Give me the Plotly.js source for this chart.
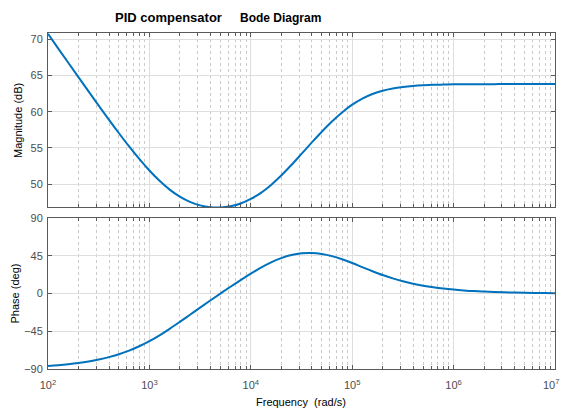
<!DOCTYPE html>
<html>
<head>
<meta charset="utf-8">
<script src="https://cdn.plot.ly/plotly-3.0.1.min.js"></script>
<style>html,body{margin:0;padding:0;background:#fff;}#chart{width:563px;height:409px;}</style>
</head>
<body>
<div id="chart"></div>
<script>
// Frequency (rad/s)
var freq = [100, 125.9, 158.5, 199.5, 251.2, 316.2, 398.1, 501.2, 631.0, 794.3,
  1000, 1259, 1585, 1995, 2512, 3162, 3981, 5012, 6310, 7943,
  10000, 12589, 15849, 19953, 25119, 31623, 39811, 50119, 63096, 79433,
  100000, 125893, 158489, 199526, 251189, 316228, 398107, 501187, 630957, 794328,
  1000000, 1258925, 1584893, 1995262, 2511886, 3162278, 3981072, 5011872, 6309573, 7943282,
  10000000];
// Magnitude (dB)
var magDb = [70.71, 68.72, 66.73, 64.75, 62.79, 60.84, 58.91, 57.03, 55.21, 53.49,
  51.90, 50.48, 49.27, 48.30, 47.58, 47.10, 46.85, 46.81, 46.98, 47.36,
  47.98, 48.83, 49.92, 51.21, 52.65, 54.18, 55.73, 57.24, 58.65, 59.90,
  60.96, 61.80, 62.43, 62.89, 63.20, 63.41, 63.55, 63.64, 63.70, 63.73,
  63.76, 63.78, 63.78, 63.79, 63.79, 63.80, 63.80, 63.80, 63.80, 63.80,
  63.80];
// Phase (deg)
var phaseDeg = [-86.40, -85.47, -84.30, -82.84, -81.00, -78.71, -75.86, -72.34, -68.04, -62.86,
  -56.78, -49.78, -42.04, -33.78, -25.27, -16.75, -8.32, -0.02, 8.11, 16.09,
  23.76, 30.88, 37.17, 42.27, 45.93, 48.01, 48.44, 47.28, 44.71, 40.96,
  36.44, 31.51, 26.64, 22.09, 18.08, 14.65, 11.78, 9.44, 7.54, 6.00,
  4.78, 3.80, 2.98, 2.41, 1.91, 1.52, 1.21, 0.96, 0.76, 0.60,
  0.48];
var xTickVals = [1e2, 1e3, 1e4, 1e5, 1e6, 1e7];
var xTickText = ['10<sup>2</sup>', '10<sup>3</sup>', '10<sup>4</sup>', '10<sup>5</sup>', '10<sup>6</sup>', '10<sup>7</sup>'];
var magTicks = [50, 55, 60, 65, 70];
var phaseTicks = [-90, -45, 0, 45, 90];

var lineColor = 'rgb(0,114,189)';
var traces = [
  {x: freq, y: magDb, xaxis: 'x2', yaxis: 'y2', type: 'scatter', mode: 'lines',
   line: {color: lineColor, width: 2, shape: 'spline'}, hoverinfo: 'skip'},
  {x: freq, y: phaseDeg, xaxis: 'x', yaxis: 'y', type: 'scatter', mode: 'lines',
   line: {color: lineColor, width: 2, shape: 'spline'}, hoverinfo: 'skip'}
];

var font = 'Liberation Sans, Arial, Helvetica, sans-serif';
var tickFont = {family: font, size: 11, color: '#4d4d4d'};
var axLine = '#5a5a5a';
var majGrid = '#dedede';
var minorCfg = {dtick: 'D1', ticks: 'inside', ticklen: 3, tickcolor: axLine,
  showgrid: true, gridcolor: '#cacaca', griddash: '3px,3px', gridwidth: 1};

function xAxis(domainAnchor, showLabels) {
  return {
    type: 'log', range: [2, 7], anchor: domainAnchor,
    tickvals: xTickVals, ticktext: xTickText, showticklabels: showLabels,
    ticks: 'inside', ticklen: 4, tickcolor: axLine, ticklabelstandoff: 6,
    showline: true, linecolor: axLine, linewidth: 1, mirror: 'ticks',
    showgrid: true, gridcolor: majGrid, gridwidth: 1,
    minor: minorCfg, tickfont: tickFont, zeroline: false, fixedrange: true
  };
}

var lastLabel = xTickText[xTickText.length - 1];

var layout = {
  width: 563, height: 409,
  margin: {l: 48, r: 8, t: 33, b: 40, pad: 0},
  paper_bgcolor: '#fff', plot_bgcolor: '#fff',
  showlegend: false,
  font: {family: font, size: 11, color: '#000'},
  xaxis: xAxis('y', true),
  xaxis2: Object.assign(xAxis('y2', false), {matches: 'x'}),
  yaxis: {domain: [0, 0.449], range: [-90, 90], tickvals: phaseTicks,
    ticks: 'inside', ticklen: 4, tickcolor: axLine,
    showline: true, linecolor: axLine, linewidth: 1, mirror: 'ticks',
    showgrid: true, gridcolor: majGrid, zeroline: false, tickfont: tickFont,
    ticklabelstandoff: 2, fixedrange: true},
  yaxis2: {domain: [0.482, 1], range: [46.87, 70.83], tickvals: magTicks,
    ticks: 'inside', ticklen: 4, tickcolor: axLine,
    showline: true, linecolor: axLine, linewidth: 1, mirror: 'ticks',
    showgrid: true, gridcolor: majGrid, zeroline: false, tickfont: tickFont,
    ticklabelstandoff: 2, fixedrange: true},
  annotations: [
    {text: '<b>PID compensator</b>', xref: 'paper', yref: 'paper', x: 0.2377, y: 1.0455,
     xanchor: 'center', yanchor: 'middle', showarrow: false, font: {family: font, size: 13, color: '#000'}},
    {text: '<b>Bode Diagram</b>', xref: 'paper', yref: 'paper', x: 0.4576, y: 1.0455,
     xanchor: 'center', yanchor: 'middle', showarrow: false, font: {family: font, size: 12, color: '#000'}},
    {text: 'Magnitude (dB)', xref: 'paper', yref: 'paper', x: -0.0592, y: 0.741,
     xanchor: 'center', yanchor: 'middle', textangle: -90, showarrow: false, font: {family: font, size: 11, color: '#000'}},
    {text: 'Phase (deg)', xref: 'paper', yref: 'paper', x: -0.0651, y: 0.2247,
     xanchor: 'center', yanchor: 'middle', textangle: -90, showarrow: false, font: {family: font, size: 11, color: '#000'}},
    {text: 'Frequency  (rad/s)', xref: 'paper', yref: 'paper', x: 0.499, y: -0.098,
     xanchor: 'center', yanchor: 'middle', showarrow: false, font: {family: font, size: 11, color: '#000'}},
    {text: lastLabel, xref: 'paper', yref: 'paper', x: 1.0138, y: -0.046,
     xanchor: 'right', yanchor: 'middle', showarrow: false, font: tickFont}
  ]
};

Plotly.newPlot('chart', traces, layout, {staticPlot: true, displayModeBar: false});
</script>
</body>
</html>
